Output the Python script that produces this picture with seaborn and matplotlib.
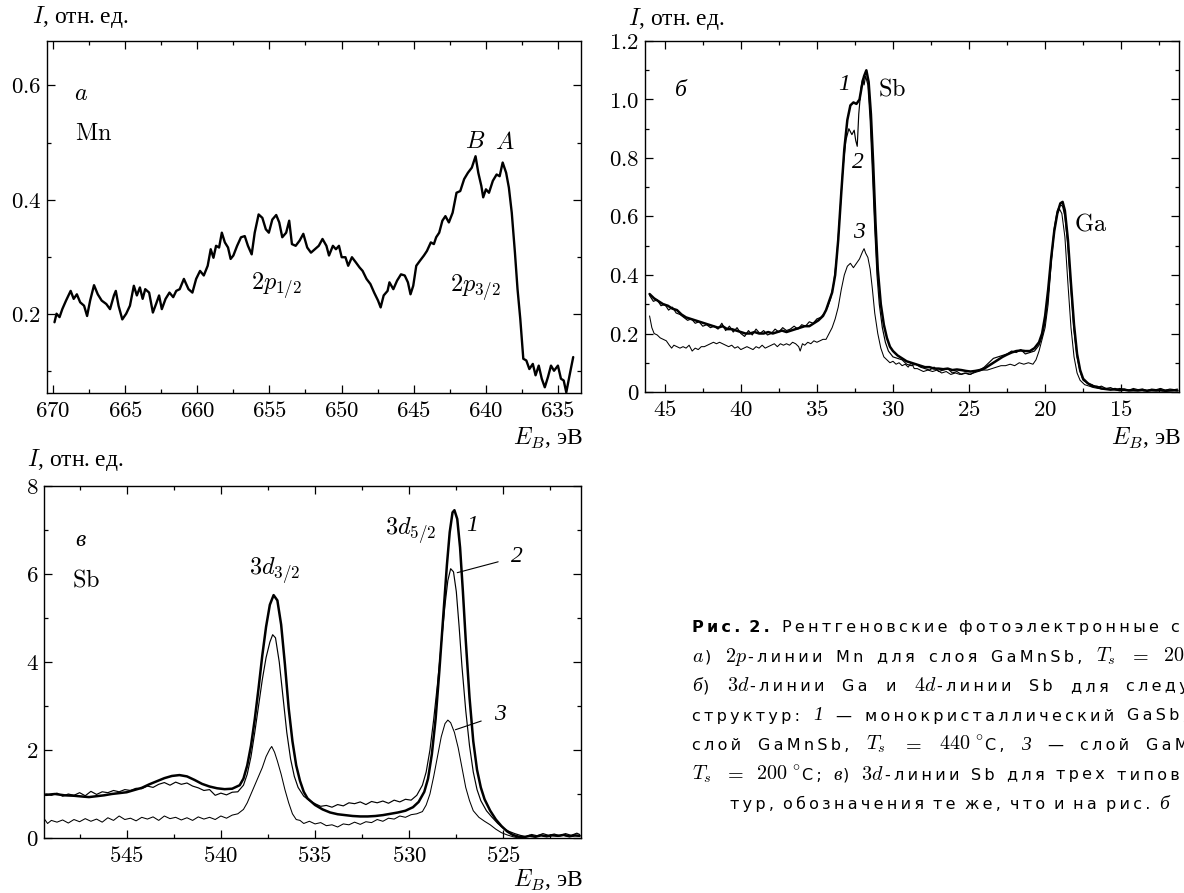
import matplotlib
matplotlib.use("Agg")
import matplotlib.pyplot as plt
import numpy as np
import pandas as pd
import seaborn as sns
from matplotlib.ticker import MultipleLocator, FuncFormatter

# ---------------- data: panel a (Mn 2p) ----------------
a_E = [669.90, 669.76, 669.55, 669.36, 669.10, 668.78, 668.57, 668.35, 668.12, 667.85,
       667.64, 667.43, 667.16, 666.90, 666.63, 666.31, 666.05, 665.78, 665.65, 665.46,
       665.20, 664.93, 664.67, 664.40, 664.19, 663.98, 663.79, 663.61, 663.34, 663.08,
       662.86, 662.65, 662.46, 662.20, 661.93, 661.67, 661.46, 661.22, 660.93, 660.61,
       660.34, 660.08, 659.81, 659.55, 659.28, 659.07, 658.88, 658.70, 658.49, 658.30,
       658.09, 657.87, 657.69, 657.50, 657.24, 656.97, 656.71, 656.49, 656.23, 656.02,
       655.75, 655.49, 655.25, 655.04, 654.80, 654.53, 654.32, 654.11, 653.84, 653.63,
       653.44, 653.18, 652.91, 652.65, 652.38, 652.12, 651.85, 651.58, 651.32, 651.05,
       650.87, 650.60, 650.39, 650.18, 649.99, 649.73, 649.54, 649.28, 649.01, 648.75,
       648.54, 648.27, 648.00, 647.74, 647.47, 647.29, 647.08, 646.81, 646.68, 646.41,
       646.15, 645.88, 645.62, 645.40, 645.22, 645.03, 644.82, 644.56, 644.29, 644.08,
       643.81, 643.60, 643.44, 643.23, 643.01, 642.80, 642.56, 642.30, 642.03, 641.77,
       641.50, 641.24, 640.97, 640.71, 640.52, 640.31, 640.18, 639.99, 639.78, 639.51,
       639.25, 639.04, 638.83, 638.59, 638.40, 638.20, 637.98, 637.80, 637.61, 637.40,
       637.19, 636.98, 636.74, 636.55, 636.33, 636.12, 635.91, 635.69, 635.48, 635.27,
       635.00, 634.79, 634.60, 634.42, 634.20, 633.94]
a_I = [0.185, 0.200, 0.194, 0.208, 0.223, 0.240, 0.226, 0.234, 0.220, 0.214,
       0.196, 0.223, 0.250, 0.234, 0.223, 0.217, 0.208, 0.232, 0.240, 0.214,
       0.190, 0.200, 0.214, 0.249, 0.232, 0.246, 0.226, 0.243, 0.237, 0.202,
       0.217, 0.232, 0.208, 0.226, 0.237, 0.229, 0.240, 0.243, 0.261, 0.243,
       0.237, 0.261, 0.275, 0.267, 0.284, 0.313, 0.298, 0.319, 0.316, 0.342,
       0.325, 0.316, 0.296, 0.302, 0.319, 0.334, 0.336, 0.319, 0.304, 0.342,
       0.374, 0.368, 0.348, 0.342, 0.365, 0.373, 0.360, 0.334, 0.342, 0.363,
       0.322, 0.319, 0.328, 0.340, 0.316, 0.307, 0.313, 0.319, 0.331, 0.319,
       0.302, 0.319, 0.313, 0.319, 0.299, 0.299, 0.284, 0.299, 0.290, 0.281,
       0.275, 0.261, 0.252, 0.237, 0.223, 0.211, 0.232, 0.240, 0.255, 0.243,
       0.258, 0.269, 0.267, 0.255, 0.234, 0.249, 0.284, 0.293, 0.302, 0.310,
       0.325, 0.322, 0.334, 0.342, 0.363, 0.371, 0.360, 0.377, 0.412, 0.415,
       0.436, 0.447, 0.456, 0.476, 0.447, 0.424, 0.404, 0.418, 0.412, 0.433,
       0.444, 0.441, 0.465, 0.447, 0.421, 0.377, 0.307, 0.243, 0.191, 0.121,
       0.118, 0.103, 0.112, 0.092, 0.109, 0.086, 0.071, 0.089, 0.109, 0.100,
       0.109, 0.086, 0.083, 0.062, 0.091, 0.124]

# ---------------- data: panel b (Ga 3d, Sb 4d) ----------------
b1_E = [46.0, 45.7, 45.4, 45.1, 44.8, 44.5, 44.2, 43.9, 43.6, 43.3, 43.0, 42.7, 42.4, 42.1,
        41.8, 41.5, 41.2, 40.9, 40.6, 40.3, 40.0, 39.7, 39.4, 39.1, 38.8, 38.5, 38.2, 37.9,
        37.6, 37.3, 37.0, 36.7, 36.4, 36.1, 35.8, 35.5, 35.2, 34.9, 34.6, 34.4, 34.2, 34.0,
        33.8, 33.6, 33.4, 33.2, 33.0, 32.8, 32.6, 32.4, 32.2, 32.0, 31.9, 31.75, 31.6, 31.45,
        31.3, 31.15, 31.0, 30.8, 30.6, 30.4, 30.2, 30.0, 29.7, 29.4, 29.1, 28.8, 28.5, 28.2,
        27.9, 27.6, 27.3, 27.0, 26.7, 26.4, 26.1, 25.8, 25.5, 25.2, 24.9, 24.6, 24.3, 24.0,
        23.7, 23.4, 23.1, 22.8, 22.5, 22.2, 21.9, 21.6, 21.3, 21.0, 20.7, 20.4, 20.2, 20.0,
        19.8, 19.6, 19.4, 19.2, 19.0, 18.85, 18.7, 18.5, 18.3, 18.1, 17.9, 17.7, 17.5, 17.2,
        16.9, 16.6, 16.3, 16.0, 15.7, 15.4, 15.1, 14.8, 14.5, 14.2, 13.9, 13.6, 13.3, 13.0,
        12.7, 12.4, 12.1, 11.8, 11.5, 11.3]
b1_I = [0.335, 0.320, 0.310, 0.300, 0.295, 0.285, 0.280, 0.265, 0.255, 0.250, 0.245, 0.240, 0.235, 0.230,
        0.225, 0.220, 0.225, 0.215, 0.215, 0.210, 0.205, 0.200, 0.200, 0.205, 0.200, 0.200, 0.205, 0.200,
        0.205, 0.210, 0.205, 0.210, 0.215, 0.220, 0.225, 0.225, 0.235, 0.245, 0.260, 0.280, 0.310, 0.340,
        0.400, 0.520, 0.680, 0.830, 0.930, 0.980, 0.990, 0.985, 1.000, 1.060, 1.080, 1.100, 1.060, 0.950,
        0.780, 0.580, 0.420, 0.300, 0.230, 0.185, 0.155, 0.140, 0.125, 0.115, 0.105, 0.100, 0.095, 0.090,
        0.085, 0.085, 0.080, 0.080, 0.078, 0.080, 0.075, 0.077, 0.075, 0.072, 0.070, 0.072, 0.075, 0.080,
        0.090, 0.100, 0.110, 0.120, 0.128, 0.135, 0.140, 0.142, 0.140, 0.140, 0.150, 0.170, 0.200, 0.260,
        0.350, 0.460, 0.550, 0.610, 0.645, 0.650, 0.620, 0.520, 0.370, 0.230, 0.130, 0.075, 0.045, 0.030,
        0.020, 0.018, 0.012, 0.010, 0.008, 0.010, 0.006, 0.008, 0.005, 0.006, 0.005, 0.007, 0.004, 0.006,
        0.005, 0.006, 0.004, 0.005, 0.006, 0.005]

b2_E = [46.0, 45.75, 45.5, 45.25, 45.0, 44.75, 44.5, 44.25, 44.0, 43.75, 43.5, 43.25, 43.0, 42.75,
        42.5, 42.25, 42.0, 41.75, 41.5, 41.25, 41.0, 40.75, 40.5, 40.25, 40.0, 39.75, 39.5, 39.25,
        39.0, 38.75, 38.5, 38.25, 38.0, 37.75, 37.5, 37.25, 37.0, 36.75, 36.5, 36.25, 36.0, 35.75,
        35.5, 35.25, 35.0, 34.75, 34.5, 34.3, 34.1, 33.9, 33.7, 33.5, 33.3, 33.1, 32.9, 32.7,
        32.55, 32.45, 32.35, 32.25, 32.1, 32.0, 31.9, 31.8, 31.65, 31.5, 31.35, 31.2, 31.05, 30.9,
        30.7, 30.5, 30.3, 30.0, 29.7, 29.4, 29.1, 28.8, 28.5, 28.2, 27.9, 27.6, 27.3, 27.0,
        26.7, 26.4, 26.1, 25.8, 25.5, 25.2, 24.9, 24.6, 24.3, 24.0, 23.7, 23.4, 23.1, 22.8,
        22.5, 22.2, 21.9, 21.6, 21.3, 21.0, 20.7, 20.4, 20.2, 20.0, 19.8, 19.6, 19.4, 19.2,
        19.0, 18.85, 18.7, 18.5, 18.3, 18.1, 17.9, 17.7, 17.5, 17.2, 16.9, 16.6, 16.3, 16.0,
        15.7, 15.4, 15.1, 14.8, 14.5, 14.2, 13.9, 13.6, 13.3, 13.0, 12.7, 12.4, 12.1, 11.8,
        11.5, 11.3]
b2_I = [0.330, 0.310, 0.315, 0.295, 0.300, 0.280, 0.290, 0.270, 0.265, 0.255, 0.245, 0.250, 0.235, 0.240,
        0.225, 0.230, 0.220, 0.225, 0.215, 0.235, 0.210, 0.225, 0.205, 0.220, 0.200, 0.190, 0.210, 0.195,
        0.215, 0.200, 0.210, 0.195, 0.200, 0.215, 0.205, 0.220, 0.210, 0.215, 0.225, 0.215, 0.230, 0.225,
        0.240, 0.235, 0.250, 0.255, 0.270, 0.290, 0.320, 0.370, 0.460, 0.600, 0.760, 0.860, 0.900, 0.880,
        0.895, 0.860, 0.840, 0.950, 1.040, 1.070, 1.050, 1.080, 1.050, 0.930, 0.750, 0.560, 0.400, 0.300,
        0.220, 0.170, 0.140, 0.120, 0.115, 0.110, 0.095, 0.090, 0.095, 0.085, 0.080, 0.075, 0.085, 0.070,
        0.075, 0.080, 0.065, 0.070, 0.060, 0.065, 0.060, 0.070, 0.075, 0.085, 0.100, 0.115, 0.120, 0.125,
        0.130, 0.140, 0.135, 0.145, 0.130, 0.135, 0.140, 0.160, 0.190, 0.240, 0.330, 0.450, 0.560, 0.620,
        0.640, 0.635, 0.600, 0.500, 0.350, 0.210, 0.120, 0.070, 0.040, 0.030, 0.025, 0.015, 0.020, 0.012,
        0.015, 0.008, 0.012, 0.010, 0.006, 0.012, 0.008, 0.010, 0.005, 0.010, 0.008, 0.012, 0.006, 0.010,
        0.008, 0.010]

b3_E = [46.0, 45.85, 45.7, 45.5, 45.3, 45.1, 44.9, 44.7, 44.55, 44.4, 44.2, 44.0, 43.8, 43.6,
        43.4, 43.2, 43.0, 42.8, 42.6, 42.4, 42.2, 42.0, 41.8, 41.6, 41.4, 41.2, 41.0, 40.8,
        40.6, 40.4, 40.2, 40.0, 39.8, 39.6, 39.4, 39.2, 39.0, 38.8, 38.6, 38.4, 38.2, 38.0,
        37.8, 37.6, 37.4, 37.2, 37.0, 36.8, 36.6, 36.4, 36.2, 36.1, 35.95, 35.8, 35.6, 35.4,
        35.2, 35.0, 34.8, 34.6, 34.4, 34.2, 34.0, 33.8, 33.6, 33.4, 33.2, 33.0, 32.8, 32.6,
        32.4, 32.2, 32.0, 31.9, 31.8, 31.65, 31.5, 31.35, 31.2, 31.0, 30.8, 30.6, 30.4, 30.2,
        30.0, 29.8, 29.6, 29.4, 29.2, 29.0, 28.8, 28.6, 28.4, 28.2, 28.0, 27.7, 27.4, 27.1,
        26.8, 26.5, 26.2, 25.9, 25.6, 25.3, 25.0, 24.7, 24.4, 24.1, 23.8, 23.5, 23.2, 22.9,
        22.6, 22.3, 22.0, 21.7, 21.4, 21.1, 20.8, 20.6, 20.4, 20.2, 20.0, 19.8, 19.6, 19.4,
        19.2, 19.05, 18.9, 18.7, 18.5, 18.3, 18.1, 17.9, 17.7, 17.4, 17.1, 16.8, 16.5, 16.2,
        15.9, 15.6, 15.3, 15.0, 14.7, 14.4, 14.1, 13.8, 13.5, 13.2, 12.9, 12.6, 12.3, 12.0,
        11.7, 11.4]
b3_I = [0.260, 0.220, 0.200, 0.195, 0.185, 0.180, 0.175, 0.160, 0.150, 0.160, 0.155, 0.150, 0.155, 0.150,
        0.160, 0.140, 0.150, 0.145, 0.155, 0.155, 0.160, 0.165, 0.170, 0.165, 0.170, 0.165, 0.160, 0.155,
        0.160, 0.150, 0.155, 0.145, 0.150, 0.155, 0.150, 0.145, 0.155, 0.150, 0.160, 0.150, 0.155, 0.160,
        0.165, 0.155, 0.165, 0.160, 0.165, 0.160, 0.170, 0.165, 0.155, 0.140, 0.165, 0.160, 0.170, 0.165,
        0.175, 0.170, 0.175, 0.180, 0.180, 0.200, 0.220, 0.250, 0.290, 0.350, 0.400, 0.430, 0.440, 0.425,
        0.440, 0.455, 0.480, 0.490, 0.475, 0.460, 0.420, 0.350, 0.270, 0.200, 0.150, 0.120, 0.110, 0.100,
        0.105, 0.095, 0.100, 0.090, 0.095, 0.085, 0.100, 0.080, 0.080, 0.075, 0.070, 0.075, 0.070, 0.075,
        0.065, 0.070, 0.060, 0.065, 0.060, 0.065, 0.060, 0.065, 0.070, 0.075, 0.075, 0.080, 0.085, 0.090,
        0.090, 0.095, 0.090, 0.100, 0.095, 0.100, 0.095, 0.110, 0.140, 0.180, 0.220, 0.300, 0.440, 0.550,
        0.610, 0.625, 0.610, 0.530, 0.370, 0.220, 0.120, 0.065, 0.040, 0.025, 0.020, 0.015, 0.012, 0.010,
        0.010, 0.008, 0.006, 0.008, 0.005, 0.007, 0.005, 0.006, 0.004, 0.006, 0.005, 0.007, 0.004, 0.006,
        0.005, 0.006]

# ---------------- data: panel c (Sb 3d) ----------------
c1_E = [549.3, 548.8, 548.3, 547.8, 547.3, 547.0, 546.6, 546.2, 545.8, 545.4, 545.0, 544.6, 544.2, 543.8,
        543.4, 543.0, 542.6, 542.2, 541.8, 541.4, 541.0, 540.6, 540.2, 539.8, 539.4, 539.0, 538.8, 538.6,
        538.4, 538.2, 538.0, 537.8, 537.6, 537.4, 537.2, 537.0, 536.8, 536.6, 536.4, 536.2, 536.0, 535.8,
        535.6, 535.4, 535.0, 534.6, 534.2, 533.8, 533.4, 533.0, 532.6, 532.2, 531.8, 531.4, 531.0, 530.6,
        530.2, 529.8, 529.5, 529.2, 529.0, 528.8, 528.6, 528.4, 528.2, 528.0, 527.85, 527.7, 527.6, 527.45,
        527.3, 527.15, 527.0, 526.8, 526.6, 526.4, 526.2, 526.0, 525.7, 525.4, 525.1, 524.8, 524.5, 524.2,
        523.9, 523.6, 523.3, 523.0, 522.7, 522.4, 522.1, 521.8, 521.5, 521.2, 520.95]
c1_I = [0.98, 1.00, 0.97, 0.96, 0.94, 0.93, 0.95, 0.97, 1.00, 1.02, 1.04, 1.09, 1.14, 1.22,
        1.29, 1.36, 1.41, 1.43, 1.40, 1.32, 1.23, 1.17, 1.13, 1.11, 1.12, 1.20, 1.35, 1.65,
        2.10, 2.70, 3.40, 4.15, 4.80, 5.30, 5.52, 5.40, 4.85, 3.95, 2.95, 2.20, 1.65, 1.30,
        1.05, 0.90, 0.75, 0.65, 0.58, 0.54, 0.52, 0.50, 0.49, 0.49, 0.50, 0.52, 0.55, 0.58,
        0.62, 0.70, 0.82, 1.05, 1.35, 1.90, 2.70, 3.80, 5.00, 6.20, 6.95, 7.40, 7.45, 7.25,
        6.60, 5.60, 4.50, 3.20, 2.20, 1.55, 1.15, 0.88, 0.62, 0.42, 0.27, 0.15, 0.07, 0.03,
        0.02, 0.05, 0.03, 0.06, 0.04, 0.06, 0.05, 0.07, 0.04, 0.06, 0.05]

c2_E = [549.3, 549.0, 548.7, 548.4, 548.1, 547.8, 547.5, 547.2, 546.9, 546.6, 546.3, 546.0, 545.7, 545.4,
        545.1, 544.8, 544.5, 544.2, 543.9, 543.6, 543.3, 543.0, 542.7, 542.4, 542.1, 541.8, 541.5, 541.2,
        540.9, 540.6, 540.3, 540.0, 539.7, 539.4, 539.1, 538.8, 538.6, 538.4, 538.2, 538.0, 537.8, 537.6,
        537.4, 537.25, 537.1, 536.9, 536.7, 536.5, 536.3, 536.1, 535.9, 535.6, 535.3, 535.0, 534.7, 534.4,
        534.1, 533.8, 533.5, 533.2, 532.9, 532.6, 532.3, 532.0, 531.7, 531.4, 531.1, 530.8, 530.5, 530.2,
        529.9, 529.6, 529.3, 529.1, 528.9, 528.7, 528.5, 528.3, 528.1, 527.95, 527.8, 527.65, 527.5, 527.35,
        527.2, 527.0, 526.8, 526.6, 526.4, 526.2, 525.9, 525.6, 525.3, 525.0, 524.7, 524.4, 524.1, 523.8,
        523.5, 523.2, 522.9, 522.6, 522.3, 522.0, 521.7, 521.4, 521.1, 520.95]
c2_I = [1.00, 0.97, 1.02, 0.95, 1.00, 0.97, 1.03, 0.96, 1.06, 0.99, 1.05, 1.03, 1.08, 1.05,
        1.10, 1.08, 1.13, 1.12, 1.18, 1.15, 1.22, 1.26, 1.20, 1.27, 1.22, 1.25, 1.18, 1.14,
        1.08, 1.10, 0.97, 1.02, 0.98, 1.04, 1.05, 1.20, 1.45, 1.85, 2.40, 3.00, 3.60, 4.10,
        4.45, 4.62, 4.55, 4.00, 3.20, 2.40, 1.80, 1.40, 1.15, 0.95, 0.85, 0.78, 0.72, 0.74,
        0.70, 0.76, 0.73, 0.80, 0.78, 0.82, 0.76, 0.83, 0.80, 0.84, 0.79, 0.86, 0.82, 0.88,
        0.86, 0.97, 1.20, 1.50, 2.00, 2.70, 3.50, 4.40, 5.30, 5.85, 6.12, 6.05, 5.60, 4.80,
        3.90, 2.90, 2.10, 1.50, 1.10, 0.85, 0.62, 0.47, 0.33, 0.22, 0.15, 0.10, 0.06, 0.03,
        0.08, 0.05, 0.10, 0.06, 0.09, 0.05, 0.10, 0.06, 0.11, 0.08]

c3_E = [549.35, 549.2, 549.0, 548.7, 548.4, 548.1, 547.8, 547.5, 547.2, 546.9, 546.6, 546.3, 546.0, 545.7,
        545.4, 545.1, 544.8, 544.5, 544.2, 543.9, 543.6, 543.3, 543.0, 542.7, 542.4, 542.1, 541.8, 541.5,
        541.2, 540.9, 540.6, 540.3, 540.0, 539.7, 539.4, 539.1, 538.8, 538.6, 538.4, 538.2, 538.0, 537.8,
        537.6, 537.4, 537.3, 537.15, 537.0, 536.8, 536.6, 536.4, 536.2, 536.0, 535.8, 535.6, 535.3, 535.0,
        534.7, 534.4, 534.1, 533.8, 533.5, 533.2, 532.9, 532.6, 532.3, 532.0, 531.7, 531.4, 531.1, 530.8,
        530.5, 530.2, 529.9, 529.6, 529.3, 529.1, 528.9, 528.7, 528.5, 528.3, 528.1, 527.95, 527.8, 527.6,
        527.4, 527.2, 527.0, 526.8, 526.6, 526.3, 526.0, 525.7, 525.4, 525.1, 524.8, 524.5, 524.2, 523.9,
        523.6, 523.3, 523.0, 522.7, 522.4, 522.1, 521.8, 521.5, 521.2, 520.95]
c3_I = [0.42, 0.33, 0.40, 0.36, 0.41, 0.34, 0.42, 0.37, 0.44, 0.38, 0.43, 0.36, 0.46, 0.40,
        0.50, 0.42, 0.45, 0.39, 0.47, 0.43, 0.48, 0.40, 0.50, 0.44, 0.47, 0.41, 0.46, 0.40,
        0.48, 0.43, 0.47, 0.42, 0.50, 0.45, 0.52, 0.55, 0.65, 0.80, 1.00, 1.20, 1.40, 1.60,
        1.85, 2.02, 2.08, 1.95, 1.75, 1.45, 1.10, 0.80, 0.55, 0.42, 0.40, 0.33, 0.38, 0.32,
        0.35, 0.28, 0.30, 0.25, 0.32, 0.30, 0.36, 0.31, 0.37, 0.35, 0.42, 0.38, 0.45, 0.43,
        0.50, 0.47, 0.53, 0.55, 0.60, 0.75, 1.00, 1.40, 1.85, 2.30, 2.60, 2.68, 2.62, 2.40,
        2.05, 1.60, 1.15, 0.85, 0.62, 0.47, 0.38, 0.30, 0.20, 0.12, 0.07, 0.03, 0.00, 0.02,
        0.05, 0.02, 0.06, 0.03, 0.07, 0.04, 0.06, 0.03, 0.05, 0.04]

# ---------------- style ----------------
sns.set_theme(style="ticks")
plt.rcParams.update({
    "font.family": ["Liberation Serif", "DejaVu Serif"],
    "mathtext.fontset": "cm",
    "axes.linewidth": 1.0,
    "axes.edgecolor": "black",
    "axes.facecolor": "white",
    "figure.facecolor": "white",
    "text.color": "black",
    "xtick.color": "black",
    "ytick.color": "black",
})

W, H = 1184, 893
fig = plt.figure(figsize=(W / 100, H / 100), dpi=100)


def rect(x0, y0, x1, y1):
    return [x0 / W, 1 - y1 / H, (x1 - x0) / W, (y1 - y0) / H]


axA = fig.add_axes(rect(47, 41, 581, 393))
axB = fig.add_axes(rect(645, 41, 1179, 392))
axC = fig.add_axes(rect(44, 486, 581, 838))


def draw(ax, E, I, lw):
    df = pd.DataFrame({"E": E, "I": I})
    sns.lineplot(data=df, x="E", y="I", ax=ax, sort=False, estimator=None,
                 color="black", lw=lw)
    ax.set_xlabel("")
    ax.set_ylabel("")


draw(axA, a_E, a_I, 1.7)
draw(axB, b3_E, b3_I, 0.75)
draw(axB, b2_E, b2_I, 0.85)
draw(axB, b1_E, b1_I, 1.8)
draw(axC, c3_E, c3_I, 0.75)
draw(axC, c2_E, c2_I, 0.85)
draw(axC, c1_E, c1_I, 1.8)

fmt_x = FuncFormatter(lambda v, p: f"${int(round(v))}$")
fmt_1 = FuncFormatter(lambda v, p: "$0$" if abs(v) < 1e-9 else f"${v:.1f}$")
fmt_int = FuncFormatter(lambda v, p: f"${int(round(v))}$")

for ax in (axA, axB, axC):
    ax.xaxis.set_major_locator(MultipleLocator(5))
    ax.xaxis.set_minor_locator(MultipleLocator(2.5))
    ax.xaxis.set_major_formatter(fmt_x)
    ax.tick_params(which="both", direction="in", top=True, right=True,
                   width=0.9, labelsize=16.5, colors="black")
    ax.tick_params(which="major", length=5.5)
    ax.tick_params(which="minor", length=3.2)
    ax.tick_params(axis="x", pad=6)
    ax.tick_params(axis="y", pad=4)
    for s in ax.spines.values():
        s.set_visible(True)
        s.set_color("black")
        s.set_linewidth(1.0)
    ax.grid(False)

axA.set_xlim(670.42, 633.4)
axA.set_ylim(0.061, 0.678)
axA.yaxis.set_major_locator(MultipleLocator(0.2))
axA.yaxis.set_minor_locator(MultipleLocator(0.1))
axA.yaxis.set_major_formatter(fmt_1)

axB.set_xlim(46.3, 11.2)
axB.set_ylim(0, 1.2)
axB.yaxis.set_major_locator(MultipleLocator(0.2))
axB.yaxis.set_minor_locator(MultipleLocator(0.1))
axB.yaxis.set_major_formatter(fmt_1)

axC.set_xlim(549.39, 520.88)
axC.set_ylim(0, 8)
axC.yaxis.set_major_locator(MultipleLocator(2))
axC.yaxis.set_minor_locator(MultipleLocator(1))
axC.yaxis.set_major_formatter(fmt_int)

LBL = 17.5
IT = {"family": "Liberation Serif", "style": "italic", "size": 17}

# panel a labels
axA.text(668.04, 0.584, "$a$", fontsize=LBL, ha="center", va="center")
axA.text(667.2, 0.514, r"$\mathrm{Mn}$", fontsize=LBL, ha="center", va="center")
axA.text(640.71, 0.50, "$B$", fontsize=LBL, ha="center", va="center")
axA.text(638.7, 0.50, "$A$", fontsize=LBL, ha="center", va="center")
axA.text(654.5, 0.249, r"$2p_{1/2}$", fontsize=LBL, ha="center", va="center")
axA.text(640.7, 0.246, r"$2p_{3/2}$", fontsize=LBL, ha="center", va="center")

# panel b labels
axB.text(43.93, 1.03, "б", fontdict=IT, ha="center", va="center")
axB.text(33.2, 1.05, "1", fontdict=IT, ha="center", va="center")
axB.text(30.03, 1.035, r"$\mathrm{Sb}$", fontsize=LBL, ha="center", va="center")
axB.text(32.31, 0.785, "2", fontdict=IT, ha="center", va="center")
axB.text(32.26, 0.546, "3", fontdict=IT, ha="center", va="center")
axB.text(17.0, 0.574, r"$\mathrm{Ga}$", fontsize=LBL, ha="center", va="center")

# panel c labels
axC.text(547.45, 6.77, "в", fontdict=IT, ha="center", va="center")
axC.text(547.14, 5.86, r"$\mathrm{Sb}$", fontsize=LBL, ha="center", va="center")
axC.text(537.14, 6.09, r"$3d_{3/2}$", fontsize=LBL, ha="center", va="center")
axC.text(529.9, 6.99, r"$3d_{5/2}$", fontsize=LBL, ha="center", va="center")
axC.text(526.67, 7.11, "1", fontdict=IT, ha="center", va="center")
axC.annotate("2", xy=(527.45, 6.03), xytext=(524.29, 6.39), fontsize=17,
             family="Liberation Serif", style="italic", ha="center", va="center",
             arrowprops=dict(arrowstyle="-", lw=0.8, color="black", shrinkA=7, shrinkB=0))
axC.annotate("3", xy=(527.55, 2.46), xytext=(525.2, 2.80), fontsize=17,
             family="Liberation Serif", style="italic", ha="center", va="center",
             arrowprops=dict(arrowstyle="-", lw=0.8, color="black", shrinkA=7, shrinkB=0))

# axis labels (outside the axes)
AX = {"family": "Liberation Serif", "size": 17}
YL = "$I$, отн.\u2009ед."
XL = "$E_B$, эВ"
fig.text(32 / W, 1 - 17 / H, YL, ha="left", va="center", **AX)
fig.text(628 / W, 1 - 19 / H, YL, ha="left", va="center", **AX)
fig.text(27 / W, 1 - 460 / H, YL, ha="left", va="center", **AX)
fig.text(583 / W, 1 - 438 / H, XL, ha="right", va="center", **AX)
fig.text(1181 / W, 1 - 438 / H, XL, ha="right", va="center", **AX)
fig.text(583 / W, 1 - 880 / H, XL, ha="right", va="center", **AX)

# ---------------- caption (justified lines) ----------------
TS = "\u2009"


def spaced(s):
    out = []
    math = False
    for i, ch in enumerate(s):
        out.append(ch)
        if ch == "$":
            math = not math
            continue
        if math:
            continue
        nxt = s[i + 1] if i + 1 < len(s) else ""
        if ch == " ":
            out.append(TS)
        elif nxt not in ("", " ", "$"):
            out.append(TS)
    return "".join(out)


S = {"family": "DejaVu Sans", "size": 11.5}
SB = {"family": "DejaVu Sans", "size": 11.5, "weight": "bold"}
SM = {"family": "DejaVu Sans", "size": 14.5}
SI = {"family": "Liberation Serif", "style": "italic", "size": 14}
renderer = fig.canvas.get_renderer()


def caption_line(x0, yb, words, target=None, gap=10):
    """words: (text, style, attached_to_next). target: (word index, x px) for justification."""
    objs, widths = [], []
    for s, kw, att in words:
        txt = spaced(s) if kw is S or kw is SB else s
        t = fig.text(0, 1 - yb / H, txt, ha="left", va="baseline", **kw)
        objs.append(t)
        widths.append(t.get_window_extent(renderer=renderer).width)
    if target is not None:
        k, xt = target
        n_free = sum(1 for w in words[:k] if not w[2])
        n_att = k - n_free
        g = (xt - x0 - sum(widths[:k]) - n_att * 1.0) / max(n_free, 1)
        g = max(g, 12)
    else:
        g = gap
    x = x0
    for t, w, (s, kw, att) in zip(objs, widths, words):
        t.set_x(x / W)
        x += w + (1.0 if att else g)


y0, dy = 632, 29.5
caption_line(692, y0, [("Рис. 2.", SB, False), ("Рентгеновские", S, False),
                       ("фотоэлектронные", S, False), ("спектры:", S, False)],
             target=(3, 1149))
caption_line(692, y0 + dy, [("$a$", SM, True), (")", S, False), ("$2p$", SM, True),
                            ("-линии", S, False), ("Mn", S, False),
                            ("для", S, False), ("слоя", S, False), ("GaMnSb,", S, False),
                            ("$T_s$", SM, False), ("$=$", SM, False),
                            (r"$200\,^\circ$", SM, True), ("C;", S, False)],
             target=(10, 1163))
caption_line(692, y0 + 2 * dy, [("б", SI, True), (")", S, False), ("$3d$", SM, True),
                                ("-линии", S, False), ("Ga", S, False), ("и", S, False),
                                ("$4d$", SM, True), ("-линии", S, False),
                                ("Sb", S, False), ("для", S, False), ("следующих", S, False)],
             target=(10, 1126))
caption_line(692, y0 + 3 * dy, [("структур:", S, False), ("1", SI, False), ("—", S, False),
                                ("монокристаллический", S, False), ("GaSb,", S, False),
                                ("2", SI, False), ("—", S, False)],
             target=(4, 1127))
caption_line(692, y0 + 4 * dy, [("слой", S, False), ("GaMnSb,", S, False), ("$T_s$", SM, False),
                                ("$=$", SM, False), (r"$440\,^\circ$", SM, True), ("C,", S, False),
                                ("3", SI, False), ("—", S, False), ("слой", S, False),
                                ("GaMnSb,", S, False)],
             target=(9, 1146))
caption_line(692, y0 + 5 * dy, [("$T_s$", SM, False), ("$=$", SM, False),
                                (r"$200\,^\circ$", SM, True), ("C;", S, False),
                                ("в", SI, True), (")", S, False),
                                ("$3d$", SM, True), ("-линии", S, False), ("Sb", S, False),
                                ("для", S, False), ("трех", S, False), ("типов", S, False),
                                ("струк-", S, False)],
             target=(12, 1174))
caption_line(730, y0 + 6 * dy, [("тур,", S, False), ("обозначения", S, False), ("те", S, False),
                                ("же,", S, False), ("что", S, False), ("и", S, False),
                                ("на", S, False), ("рис.", S, False), ("б", SI, False)],
             gap=9)

fig.savefig("out.png", dpi=100, facecolor="white")
